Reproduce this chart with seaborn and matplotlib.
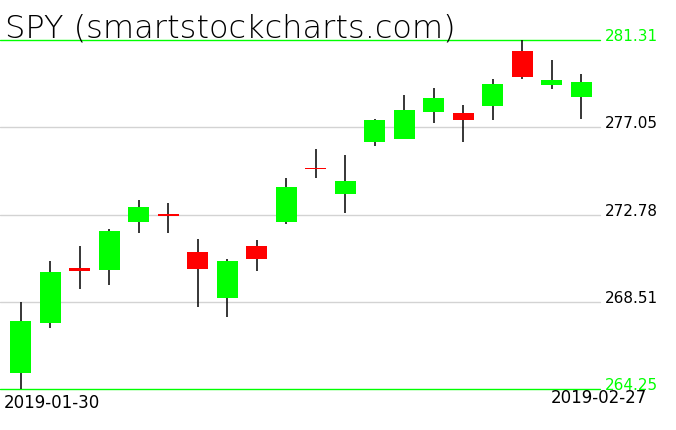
import matplotlib
matplotlib.use("Agg")
import matplotlib.pyplot as plt
import matplotlib.transforms as mtransforms
import pandas as pd
import seaborn as sns

# daily OHLC values (2019-01-30 .. 2019-02-27)
opens = [265.05, 267.48, 270.17, 270.08, 272.43, 272.78, 270.95, 268.71, 271.24, 272.43,
         275.04, 273.80, 276.32, 276.49, 277.79, 277.74, 278.08, 280.77, 279.11, 278.52]
highs = [268.49, 270.51, 271.24, 272.07, 273.49, 273.34, 271.58, 270.61, 271.53, 274.57,
         275.98, 275.69, 277.45, 278.62, 278.96, 278.13, 279.40, 281.31, 280.33, 279.65]
lows = [264.25, 267.23, 269.15, 269.34, 271.89, 271.89, 268.27, 267.79, 270.03, 272.33,
        274.58, 272.87, 276.14, 276.47, 277.25, 276.32, 277.41, 279.40, 278.92, 277.45]
closes = [267.58, 269.97, 270.03, 271.97, 273.15, 272.72, 270.13, 270.51, 270.62, 274.13,
          274.98, 274.42, 277.40, 277.89, 278.48, 277.41, 279.16, 279.50, 279.35, 279.26]

price_ticks = [281.31, 277.05, 272.78, 268.51, 264.25]
first_date = "2019-01-30"
last_date = "2019-02-27"
title = "SPY (smartstockcharts.com)"

df = pd.DataFrame({"open": opens, "high": highs, "low": lows, "close": closes})
df["day"] = range(len(df))
df["up"] = df["close"] >= df["open"]
df["bottom"] = df[["open", "close"]].min(axis=1)
# keep dojis visible as a thin bar
df["body"] = (df["close"] - df["open"]).abs().clip(lower=0.08)

sns.set_theme(style="white")
plt.rcParams["font.family"] = ["DejaVu Sans"]
plt.rcParams["text.color"] = "black"

fig = plt.figure(figsize=(6.76, 4.31), dpi=100)
ax = fig.add_axes([0, 41 / 431, 600 / 676, 349 / 431])

# price grid lines, outer ones in green
for p in price_ticks:
    outer = p in (price_ticks[0], price_ticks[-1])
    ax.axhline(p, color="#00ff00" if outer else "#d3d3d3", lw=1.0,
               zorder=1, clip_on=False)

# wicks then bodies
ax.vlines(df["day"], df["low"], df["high"], color="black", lw=1.1, zorder=2)
colors = ["#00ff00" if u else "#ff0000" for u in df["up"]]
ax.bar(df["day"], df["body"], bottom=df["bottom"], width=0.71,
       color=colors, linewidth=0, zorder=3)

ax.set_xlim(-0.70, 19.64)
ax.set_ylim(price_ticks[-1], price_ticks[0])
ax.set_xticks([])
ax.set_yticks([])
sns.despine(ax=ax, left=True, bottom=True)

# price labels sit on their lines, just right of the plot
trans = mtransforms.blended_transform_factory(ax.transAxes, ax.transData)
for p in price_ticks:
    outer = p in (price_ticks[0], price_ticks[-1])
    ax.text(1.008, p, f"{p:.2f}", transform=trans, ha="left", va="baseline",
            fontsize=11, color="#00ff00" if outer else "black", clip_on=False)

fig.text(4 / 676, 1 - 394 / 431, first_date, ha="left", va="top",
         fontsize=12, color="black")
fig.text(647 / 676, 1 - 389 / 431, last_date, ha="right", va="top",
         fontsize=12, color="black")
fig.text(5 / 676, 1 - 37 / 431, title, ha="left", va="baseline",
         fontsize=23, fontweight="light", color="black")

fig.savefig("out.png", dpi=100, facecolor="white")
